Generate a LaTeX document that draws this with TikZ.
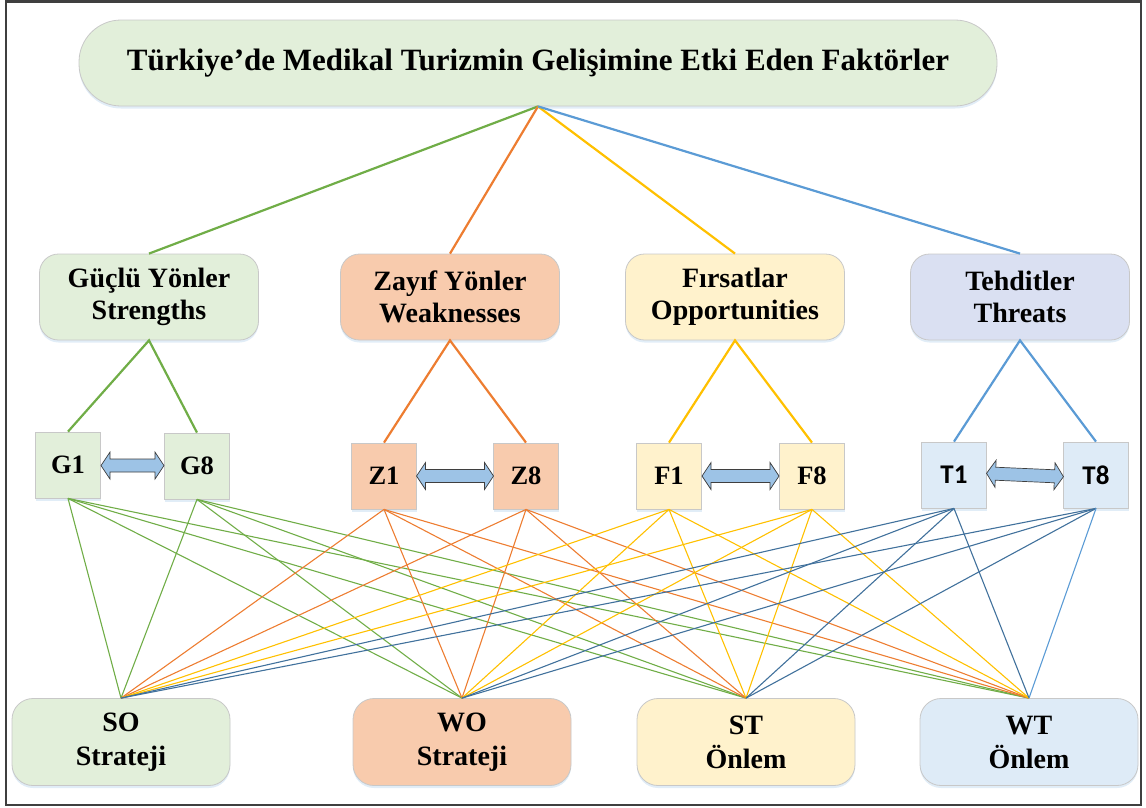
\documentclass[tikz,border=0pt]{standalone}
\usepackage{fontspec}
\setmainfont{Liberation Serif}
\newfontfamily\calibri{Carlito}
\usetikzlibrary{shadows,calc}
\definecolor{gfill}{HTML}{E2EFDA}
\definecolor{ofill}{HTML}{F8CBAD}
\definecolor{yfill}{HTML}{FFF2CC}
\definecolor{tfill}{HTML}{DAE0F2}
\definecolor{bfill}{HTML}{DEEBF7}
\definecolor{gline}{HTML}{70AD47}
\definecolor{oline}{HTML}{ED7D31}
\definecolor{yline}{HTML}{FFC000}
\definecolor{bline}{HTML}{5B9BD5}
\definecolor{dline}{HTML}{41719C}
\definecolor{boxline}{HTML}{C8C8C8}
\definecolor{arrfill}{HTML}{9DC3E6}
\definecolor{frame}{HTML}{3F3F3F}
\definecolor{shad}{HTML}{BDD7EE}
\begin{document}
\begin{tikzpicture}[x=1pt,y=-1pt,
  box/.style={draw=boxline, line width=0.8pt, inner sep=0pt, align=center,
    drop shadow={shadow xshift=0pt, shadow yshift=-2.5pt, opacity=0.45, fill=shad}},
  titlebox/.style={box, rounded corners=42pt, minimum width=918pt, minimum height=86pt,
    font=\fontsize{31}{36}\selectfont\bfseries},
  lvltwo/.style={box, rounded corners=19pt, minimum width=219pt, minimum height=86pt,
    font=\fontsize{28}{32}\selectfont\bfseries},
  sq/.style={box, minimum width=65pt, minimum height=66pt,
    font=\fontsize{26.5}{30}\selectfont\bfseries},
  tsq/.style={sq, font=\fontsize{27}{30}\selectfont\calibri\bfseries},
  bot/.style={box, rounded corners=21pt, minimum width=218pt, minimum height=87pt,
    font=\fontsize{28}{34}\selectfont\bfseries},
  dblstyle/.style={draw=frame, line width=0.7pt, fill=arrfill, line join=miter},
  pics/dblarrow/.style={code={
    \draw[dblstyle] (-#1,0) -- (-#1+9,-13.5) -- (-#1+9,-6.5) -- (#1-9,-6.5) -- (#1-9,-13.5)
      -- (#1,0) -- (#1-9,13.5) -- (#1-9,6.5) -- (-#1+9,6.5) -- (-#1+9,13.5) -- cycle;
  }},
  tree/.style={line width=2.2pt},
  fan/.style={line width=1.1pt}
]
\useasboundingbox (0,0) rectangle (1146,807);
\draw[frame, line width=2.5pt] (6,1.5) rectangle (1141,805);

% title
\node[titlebox, fill=gfill] (title) at (538,63) {Türkiye’de Medikal Turizmin Gelişimine Etki Eden Faktörler};

% level 2
\node[lvltwo, fill=gfill] (S) at (149,297) {Güçlü Yönler\\Strengths};
\node[lvltwo, fill=ofill] (W) at (450,297) {Zayıf Yönler\\Weaknesses};
\node[lvltwo, fill=yfill] (O) at (735,297) {Fırsatlar\\Opportunities};
\node[lvltwo, fill=tfill] (T) at (1020,297) {Tehditler\\Threats};

% level 3
\node[sq, fill=gfill] (G1) at (68,465) {G1};
\node[sq, fill=gfill] (G8) at (197,466) {G8};
\node[sq, fill=ofill] (Z1) at (384,476) {Z1};
\node[sq, fill=ofill] (Z8) at (526,476) {Z8};
\node[sq, fill=yfill] (F1) at (669,476) {F1};
\node[sq, fill=yfill] (F8) at (812,476) {F8};
\node[tsq, fill=bfill] (T1) at (954,475) {T1};
\node[tsq, fill=bfill] (T8) at (1096,475) {T8};

% bottom
\node[bot, fill=gfill] (SO) at (121,742) {SO\\Strateji};
\node[bot, fill=ofill] (WO) at (462,742) {WO\\Strateji};
\node[bot, fill=yfill] (ST) at (746,742) {ST\\Önlem};
\node[bot, fill=bfill] (WT) at (1029,742) {WT\\Önlem};

% double arrows
\pic at ($(G1.east)!0.5!(G8.west)$) {dblarrow=31.5};
\pic at ($(Z1.east)!0.5!(Z8.west)$) {dblarrow=38.5};
\pic at ($(F1.east)!0.5!(F8.west)$) {dblarrow=38.5};
\pic[rotate=-2.5] at ($(T1.east)!0.5!(T8.west)$) {dblarrow=38.5};

% tree lines
\draw[tree, gline] (title.south) -- (S.north);
\draw[tree, oline] (title.south) -- (W.north);
\draw[tree, yline] (title.south) -- (O.north);
\draw[tree, bline] (title.south) -- (T.north);
\draw[tree, gline] (G1.north) -- (S.south) -- (G8.north);
\draw[tree, oline] (Z1.north) -- (W.south) -- (Z8.north);
\draw[tree, yline] (F1.north) -- (O.south) -- (F8.north);
\draw[tree, bline] (T1.north) -- (T.south) -- (T8.north);

% fan lines
\foreach \src/\col in {G1/gline,G8/gline,Z1/oline,Z8/oline,F1/yline,F8/yline,T1/dline}{
  \foreach \dst in {SO,WO,ST,WT}{
    \draw[fan, \col] (\src.south) -- (\dst.north);
  }
}
\foreach \dst in {SO,WO,ST}{
  \draw[fan, dline] (T8.south) -- (\dst.north);
}
\draw[fan, bline] (T8.south) -- (WT.north);
\end{tikzpicture}
\end{document}
